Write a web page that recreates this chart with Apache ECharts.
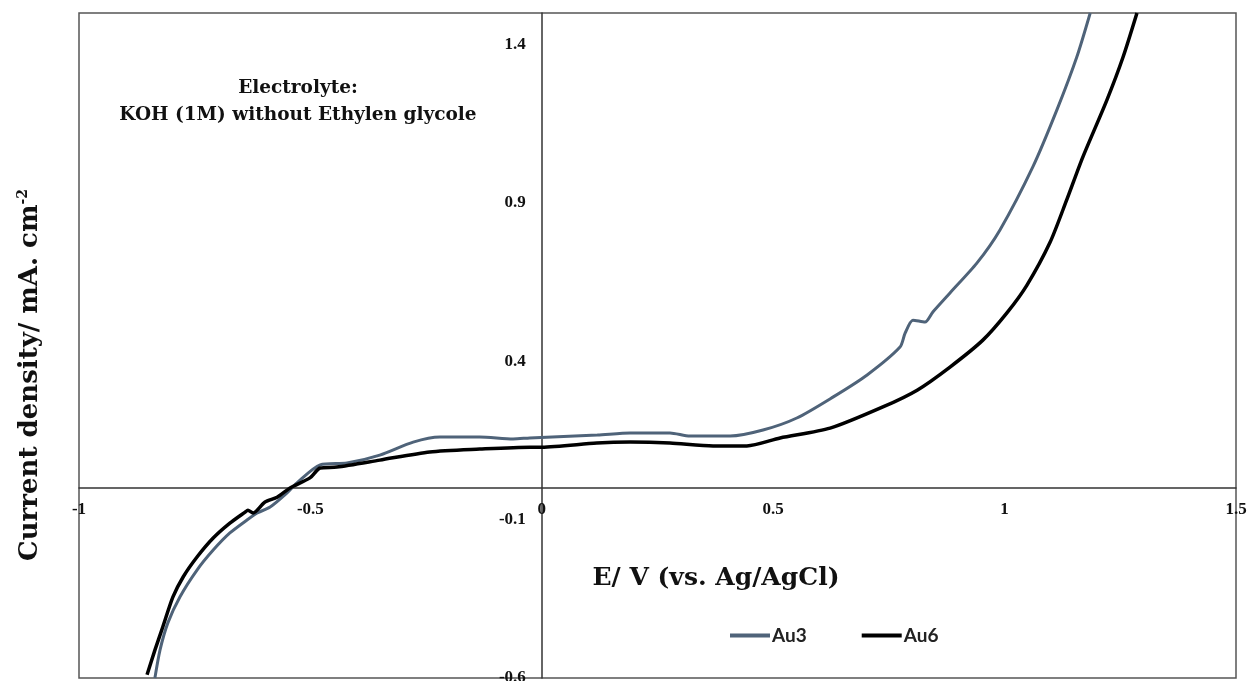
<!DOCTYPE html>
<html>
<head>
<meta charset="utf-8">
<script src="https://cdn.jsdelivr.net/npm/echarts@6/dist/echarts.min.js"></script>
<style>
html, body { margin: 0; padding: 0; background: #fff; }
#chart { width: 1250px; height: 681px; }
</style>
</head>
<body>
<div id="chart"></div>
<script>
// values: potential (V) and current density (mA/cm2)
const au3Potential = [-0.836, -0.825, -0.808, -0.782, -0.745, -0.710, -0.674, -0.637, -0.615, -0.587, -0.551, -0.529, -0.479, -0.421, -0.350, -0.278, -0.220, -0.134, -0.062, -0.026, 0.120, 0.191, 0.277, 0.320, 0.407, 0.478, 0.551, 0.629, 0.703, 0.774, 0.785, 0.802, 0.828, 0.845, 0.882, 0.940, 0.990, 1.061, 1.113, 1.156, 1.185];
const au3Current = [-0.600, -0.512, -0.426, -0.344, -0.259, -0.196, -0.142, -0.101, -0.079, -0.060, -0.016, 0.016, 0.073, 0.079, 0.104, 0.145, 0.161, 0.161, 0.155, 0.158, 0.167, 0.174, 0.174, 0.164, 0.164, 0.183, 0.221, 0.287, 0.357, 0.445, 0.489, 0.530, 0.524, 0.556, 0.616, 0.710, 0.815, 1.014, 1.194, 1.361, 1.500];

const au6Potential = [-0.853, -0.836, -0.819, -0.797, -0.775, -0.745, -0.710, -0.674, -0.641, -0.635, -0.624, -0.598, -0.572, -0.544, -0.501, -0.479, -0.443, -0.350, -0.242, -0.134, -0.026, 0.000, 0.119, 0.191, 0.277, 0.370, 0.443, 0.515, 0.623, 0.737, 0.811, 0.882, 0.953, 1.005, 1.048, 1.098, 1.134, 1.169, 1.221, 1.256, 1.286];
const au6Current = [-0.590, -0.512, -0.439, -0.344, -0.281, -0.218, -0.158, -0.111, -0.076, -0.070, -0.079, -0.044, -0.029, 0.000, 0.032, 0.063, 0.066, 0.088, 0.114, 0.123, 0.129, 0.129, 0.142, 0.145, 0.142, 0.133, 0.133, 0.158, 0.189, 0.256, 0.309, 0.382, 0.467, 0.553, 0.640, 0.775, 0.909, 1.045, 1.225, 1.361, 1.500];

const seriesNames = ['Au3', 'Au6'];
const seriesColors = ['#4f6379', '#000000'];

const xMin = -1, xMax = 1.5, xStep = 0.5;
const yMin = -0.6, yMax = 1.5, yStep = 0.5;

const SERIF = '"Liberation Serif", serif';
const WIDE_SERIF = '"DejaVu Serif", serif';

// plot box in pixels
const G = { left: 79, right: 14, top: 13, bottom: 3 };
const plotW = 1250 - G.left - G.right;
const plotH = 681 - G.top - G.bottom;
// axes cross at zero: shift them inward from the grid edges
const xAxisShift = -plotH * (0 - yMin) / (yMax - yMin);
const yAxisShift = -plotW * (0 - xMin) / (xMax - xMin);

const zip = (xs, ys) => xs.map((x, i) => [x, ys[i]]);

const chart = echarts.init(document.getElementById('chart'));

chart.setOption({
    backgroundColor: '#fff',
    animation: false,
    grid: { left: G.left, right: G.right, top: G.top, bottom: G.bottom, outerBoundsMode: 'none', containLabel: false,
            show: true, borderColor: '#555', borderWidth: 1.5 },
    legend: {
        data: seriesNames,
        left: 730, top: 626, padding: 0,
        icon: 'rect', itemWidth: 40, itemHeight: 4, itemGap: 55,
        textStyle: { fontFamily: 'Lato, "Open Sans", sans-serif', fontWeight: 'bold', fontSize: 19, color: '#222', padding: [0, 0, 0, -3] }
    },
    xAxis: {
        type: 'value', min: xMin, max: xMax, interval: xStep,
        position: 'bottom', offset: xAxisShift,
        axisLine: { onZero: false, lineStyle: { color: '#333', width: 1.5 } },
        axisTick: { show: false },
        splitLine: { show: false },
        axisLabel: { margin: 13, fontFamily: SERIF, fontWeight: 'bold', fontSize: 17, color: '#111' }
    },
    yAxis: {
        type: 'value', min: yMin, max: yMax, interval: yStep,
        position: 'left', offset: yAxisShift,
        axisLine: { onZero: false, lineStyle: { color: '#333', width: 1.5 } },
        axisTick: { show: false },
        splitLine: { show: false },
        axisLabel: { margin: 16, showMaxLabel: false, fontFamily: SERIF, fontWeight: 'bold', fontSize: 17, color: '#111' }
    },
    series: [
        { name: seriesNames[0], type: 'line', data: zip(au3Potential, au3Current), symbol: 'none', smooth: 0.25,
          lineStyle: { color: seriesColors[0], width: 3 }, itemStyle: { color: seriesColors[0] } },
        { name: seriesNames[1], type: 'line', data: zip(au6Potential, au6Current), symbol: 'none', smooth: 0.25,
          lineStyle: { color: seriesColors[1], width: 3.5 }, itemStyle: { color: seriesColors[1] } }
    ],
    graphic: [
        {
            type: 'text', x: 30, y: 375, rotation: Math.PI / 2,
            style: {
                text: '{m|Current density/ mA. cm}{s|-2}',
                align: 'center', verticalAlign: 'middle',
                rich: {
                    m: { fontFamily: WIDE_SERIF, fontWeight: 'bold', fontSize: 26, fill: '#111' },
                    s: { fontFamily: WIDE_SERIF, fontWeight: 'bold', fontSize: 14, fill: '#111', verticalAlign: 'top', padding: [0, 0, 14, 0] }
                }
            }
        },
        {
            type: 'text', x: 716, y: 578,
            style: { text: 'E/ V (vs. Ag/AgCl)', align: 'center', verticalAlign: 'middle', fontFamily: WIDE_SERIF, fontWeight: 'bold', fontSize: 25, fill: '#111' }
        },
        {
            type: 'text', x: 298, y: 102,
            style: { text: 'Electrolyte:\nKOH (1M) without Ethylen glycole', align: 'center', verticalAlign: 'middle', lineHeight: 27, fontFamily: WIDE_SERIF, fontWeight: 'bold', fontSize: 18.5, fill: '#111' }
        }
    ]
});
</script>
</body>
</html>
